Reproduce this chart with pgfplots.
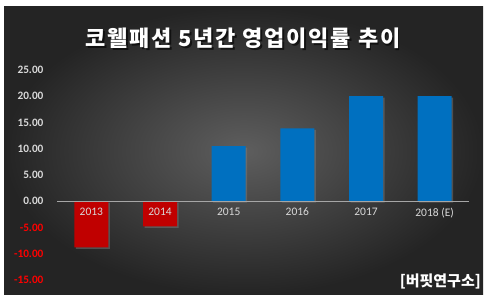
\documentclass[border=0pt]{standalone}
\usepackage{pgfplots}
\pgfplotsset{compat=1.18}
\usepackage{fontspec}
\setmainfont{Carlito}
\newfontfamily\kr{Noto Sans CJK KR}
\newfontfamily\krtitle{Noto Sans CJK KR}[LetterSpace=8]
\usetikzlibrary{shadows}
\definecolor{bgin}{HTML}{5E5E5E}
\definecolor{bgout}{HTML}{242424}
\definecolor{barred}{HTML}{C00000}
\definecolor{barblue}{HTML}{0070C0}
\definecolor{lbl}{HTML}{D9D9D9}
\definecolor{zeroline}{HTML}{A6A6A6}
\begin{document}
\begin{tikzpicture}[x=1pt,y=1pt]
\path[use as bounding box, fill=white] (0,0) rectangle (487,299);
\shade[inner color=bgin, outer color=bgout] (4,4) rectangle (483,292);
\begin{axis}[
  at={(57pt,19pt)}, anchor=south west,
  scale only axis, width=412pt, height=210pt,
  xmin=-0.5, xmax=5.5, ymin=-15, ymax=25,
  axis x line*=middle, axis y line*=left,
  y axis line style={draw=none},
  x axis line style={draw=zeroline, line width=0.8pt},
  major tick length=0pt,
  xtick={0,1,2,3,4,5},
  xticklabels={2013,2014,2015,2016,2017,2018 (E)},
  ytick={-15,-10,-5,0,5,10,15,20,25},
  yticklabel={\ifdim\tick pt<0pt\color{red}\fi\pgfmathprintnumber[fixed,fixed zerofill,precision=2,assume math mode=true]{\tick}},
  yticklabel style={font=\bfseries\fontsize{11.3}{13}\selectfont, text=lbl, anchor=east, xshift=-10pt},
  xticklabel style={font=\fontsize{11.5}{13}\selectfont, text=lbl, yshift=-3pt},
  axis on top,
]
\addplot[ybar, bar shift=0pt, bar width=34pt, fill=barred, draw=none,
  drop shadow={shadow xshift=1.5pt, shadow yshift=-1.5pt, opacity=0.45}]
  coordinates {(0,-8.8) (1,-4.8)};
\addplot[ybar, bar shift=0pt, bar width=34pt, fill=barblue, draw=none,
  drop shadow={shadow xshift=1.5pt, shadow yshift=-1.5pt, opacity=0.45}]
  coordinates {(2,10.5) (3,13.9) (4,20.0) (5,20.0)};
\end{axis}
\node[text=black, opacity=0.6, font=\krtitle\bfseries\fontsize{22}{26}\selectfont] at (244.5,259) {코웰패션 5년간 영업이익률 추이};
\node[text=white, font=\krtitle\bfseries\fontsize{22}{26}\selectfont] at (243,260.5) {코웰패션 5년간 영업이익률 추이};
\node[anchor=east, text=white, font=\kr\bfseries\fontsize{15}{18}\selectfont, inner sep=1pt] at (482,18) {[버핏연구소]};
\end{tikzpicture}
\end{document}
